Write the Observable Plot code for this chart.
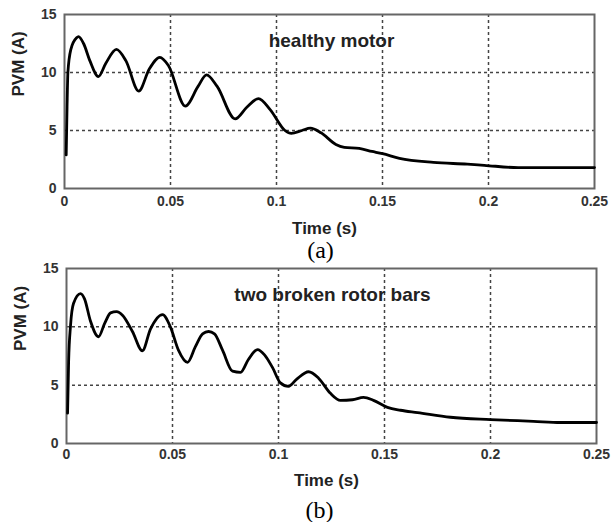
<!DOCTYPE html>
<html><head><meta charset="utf-8">
<script src="https://cdn.jsdelivr.net/npm/d3@7"></script>
<script src="https://cdn.jsdelivr.net/npm/@observablehq/plot@0.6"></script>
<style>
body{margin:0;background:#fff;}
#chart{width:611px;height:522px;position:relative;background:#fff;}
#chart svg{display:block;overflow:visible;}
</style></head><body><div id="chart"></div>
<script>
const timeA = [0.0008,0.0012,0.0016,0.003,0.0057,0.0066,0.009,0.012,0.016,0.0195,0.0245,0.029,0.035,0.040,0.045,0.049,0.057,0.063,0.067,0.072,0.0805,0.086,0.0915,0.097,0.104,0.107,0.112,0.116,0.121,0.128,0.132,0.139,0.145,0.150,0.158,0.174,0.190,0.198,0.214,0.25];
const pvmA  = [2.9,7.0,10.0,12.0,13.0,13.1,12.5,11.0,9.65,10.8,12.0,11.0,8.4,10.3,11.3,10.6,7.1,8.8,9.8,8.8,6.0,7.0,7.75,6.8,5.0,4.75,5.0,5.2,4.8,3.8,3.55,3.45,3.2,3.0,2.6,2.25,2.1,2.0,1.8,1.8];
const timeB = [0.0005,0.001,0.0019,0.0033,0.0066,0.0085,0.0113,0.0151,0.018,0.0208,0.0236,0.0264,0.0311,0.0358,0.0396,0.0453,0.049,0.0528,0.0571,0.0608,0.0642,0.067,0.0698,0.0736,0.0783,0.0821,0.0858,0.0901,0.0934,0.0972,0.1009,0.1047,0.1085,0.1142,0.1189,0.1245,0.1292,0.1349,0.1401,0.1448,0.1514,0.1575,0.1656,0.1811,0.2,0.2203,0.233,0.25];
const pvmB  = [2.6,7.0,10.1,12.0,12.85,12.4,10.5,9.15,10.3,11.2,11.3,11.0,9.6,7.95,9.8,11.05,10.0,8.0,6.95,8.3,9.4,9.6,9.4,8.0,6.2,6.1,7.2,8.05,7.6,6.5,5.2,4.9,5.5,6.15,5.6,4.3,3.7,3.75,3.95,3.7,3.1,2.85,2.65,2.25,2.05,1.9,1.8,1.8];
const xTicks = [0,0.05,0.1,0.15,0.2,0.25];
const xTickLabels = ["0","0.05","0.1","0.15","0.2","0.25"];
const yTicks = [0,5,10,15];
const xGrid = [0.05,0.1,0.15,0.2];
const yGrid = [5,10];
const panelNotes = ["healthy motor","two broken rotor bars"];
const panelTags = ["(a)","(b)"];
const xLabel = "Time (s)";
const yLabel = "PVM (A)";

const sans = "Liberation Sans, Arial, sans-serif";
const serif = "Liberation Serif, Times New Roman, serif";

function panel(time, pvm, note, tag, c) {
  const data = time.map((t, i) => ({t, v: pvm[i]}));
  return Plot.plot({
    width: 611, height: c.height,
    marginLeft: c.ml, marginRight: c.mr, marginTop: c.mt, marginBottom: c.mb,
    style: {fontFamily: sans, background: "transparent", overflow: "visible"},
    x: {domain: [0, 0.25]},
    y: {domain: [0, 15]},
    marks: [
      Plot.ruleX(xGrid, {stroke: "#444", strokeWidth: 1.5, strokeDasharray: "3,3"}),
      Plot.ruleY(yGrid, {stroke: "#444", strokeWidth: 1.5, strokeDasharray: "3,3"}),
      Plot.frame({stroke: "#666", strokeWidth: 2}),
      Plot.line(data, {x: "t", y: "v", stroke: "#000", strokeWidth: 2.8, curve: "monotone-x"}),
      Plot.axisX({ticks: xTicks, tickSize: 0, tickPadding: c.xpad, label: null, fontSize: 14, fontWeight: "bold", fill: "#333",
        tickFormat: d => xTickLabels[xTicks.indexOf(d)]}),
      Plot.axisY({ticks: yTicks, tickSize: 0, tickPadding: 8, label: null, fontSize: 14, fontWeight: "bold", fill: "#333"}),
      Plot.text([note], {frameAnchor: "top", dy: 19, dx: c.noteDx, fontSize: 19, fontWeight: "bold", fill: "#222"}),
      Plot.text([xLabel], {frameAnchor: "bottom", dy: c.xlDy, dx: -5, lineAnchor: "middle", fontSize: 17, fontWeight: "bold", fill: "#222"}),
      Plot.text([yLabel], {frameAnchor: "left", dx: -46, dy: -5, rotate: -90, fontSize: 17, fontWeight: "bold", fill: "#222"}),
      Plot.text([tag], {frameAnchor: "bottom", dy: c.tagDy, dx: c.tagDx, lineAnchor: "middle", fontSize: 24, fontFamily: serif, fill: "#000"})
    ]
  });
}

const el = document.getElementById("chart");
el.append(panel(timeA, pvmA, panelNotes[0], panelTags[0],
  {height: 262, ml: 64, mr: 17, mt: 14, mb: 74, xpad: 8, noteDx: 2, xlDy: 40, tagDy: 62, tagDx: -9}));
el.append(panel(timeB, pvmB, panelNotes[1], panelTags[1],
  {height: 260, ml: 66, mr: 15, mt: 6, mb: 79, xpad: 6, noteDx: 1, xlDy: 37, tagDy: 67, tagDx: -12}));
</script>
</body></html>
